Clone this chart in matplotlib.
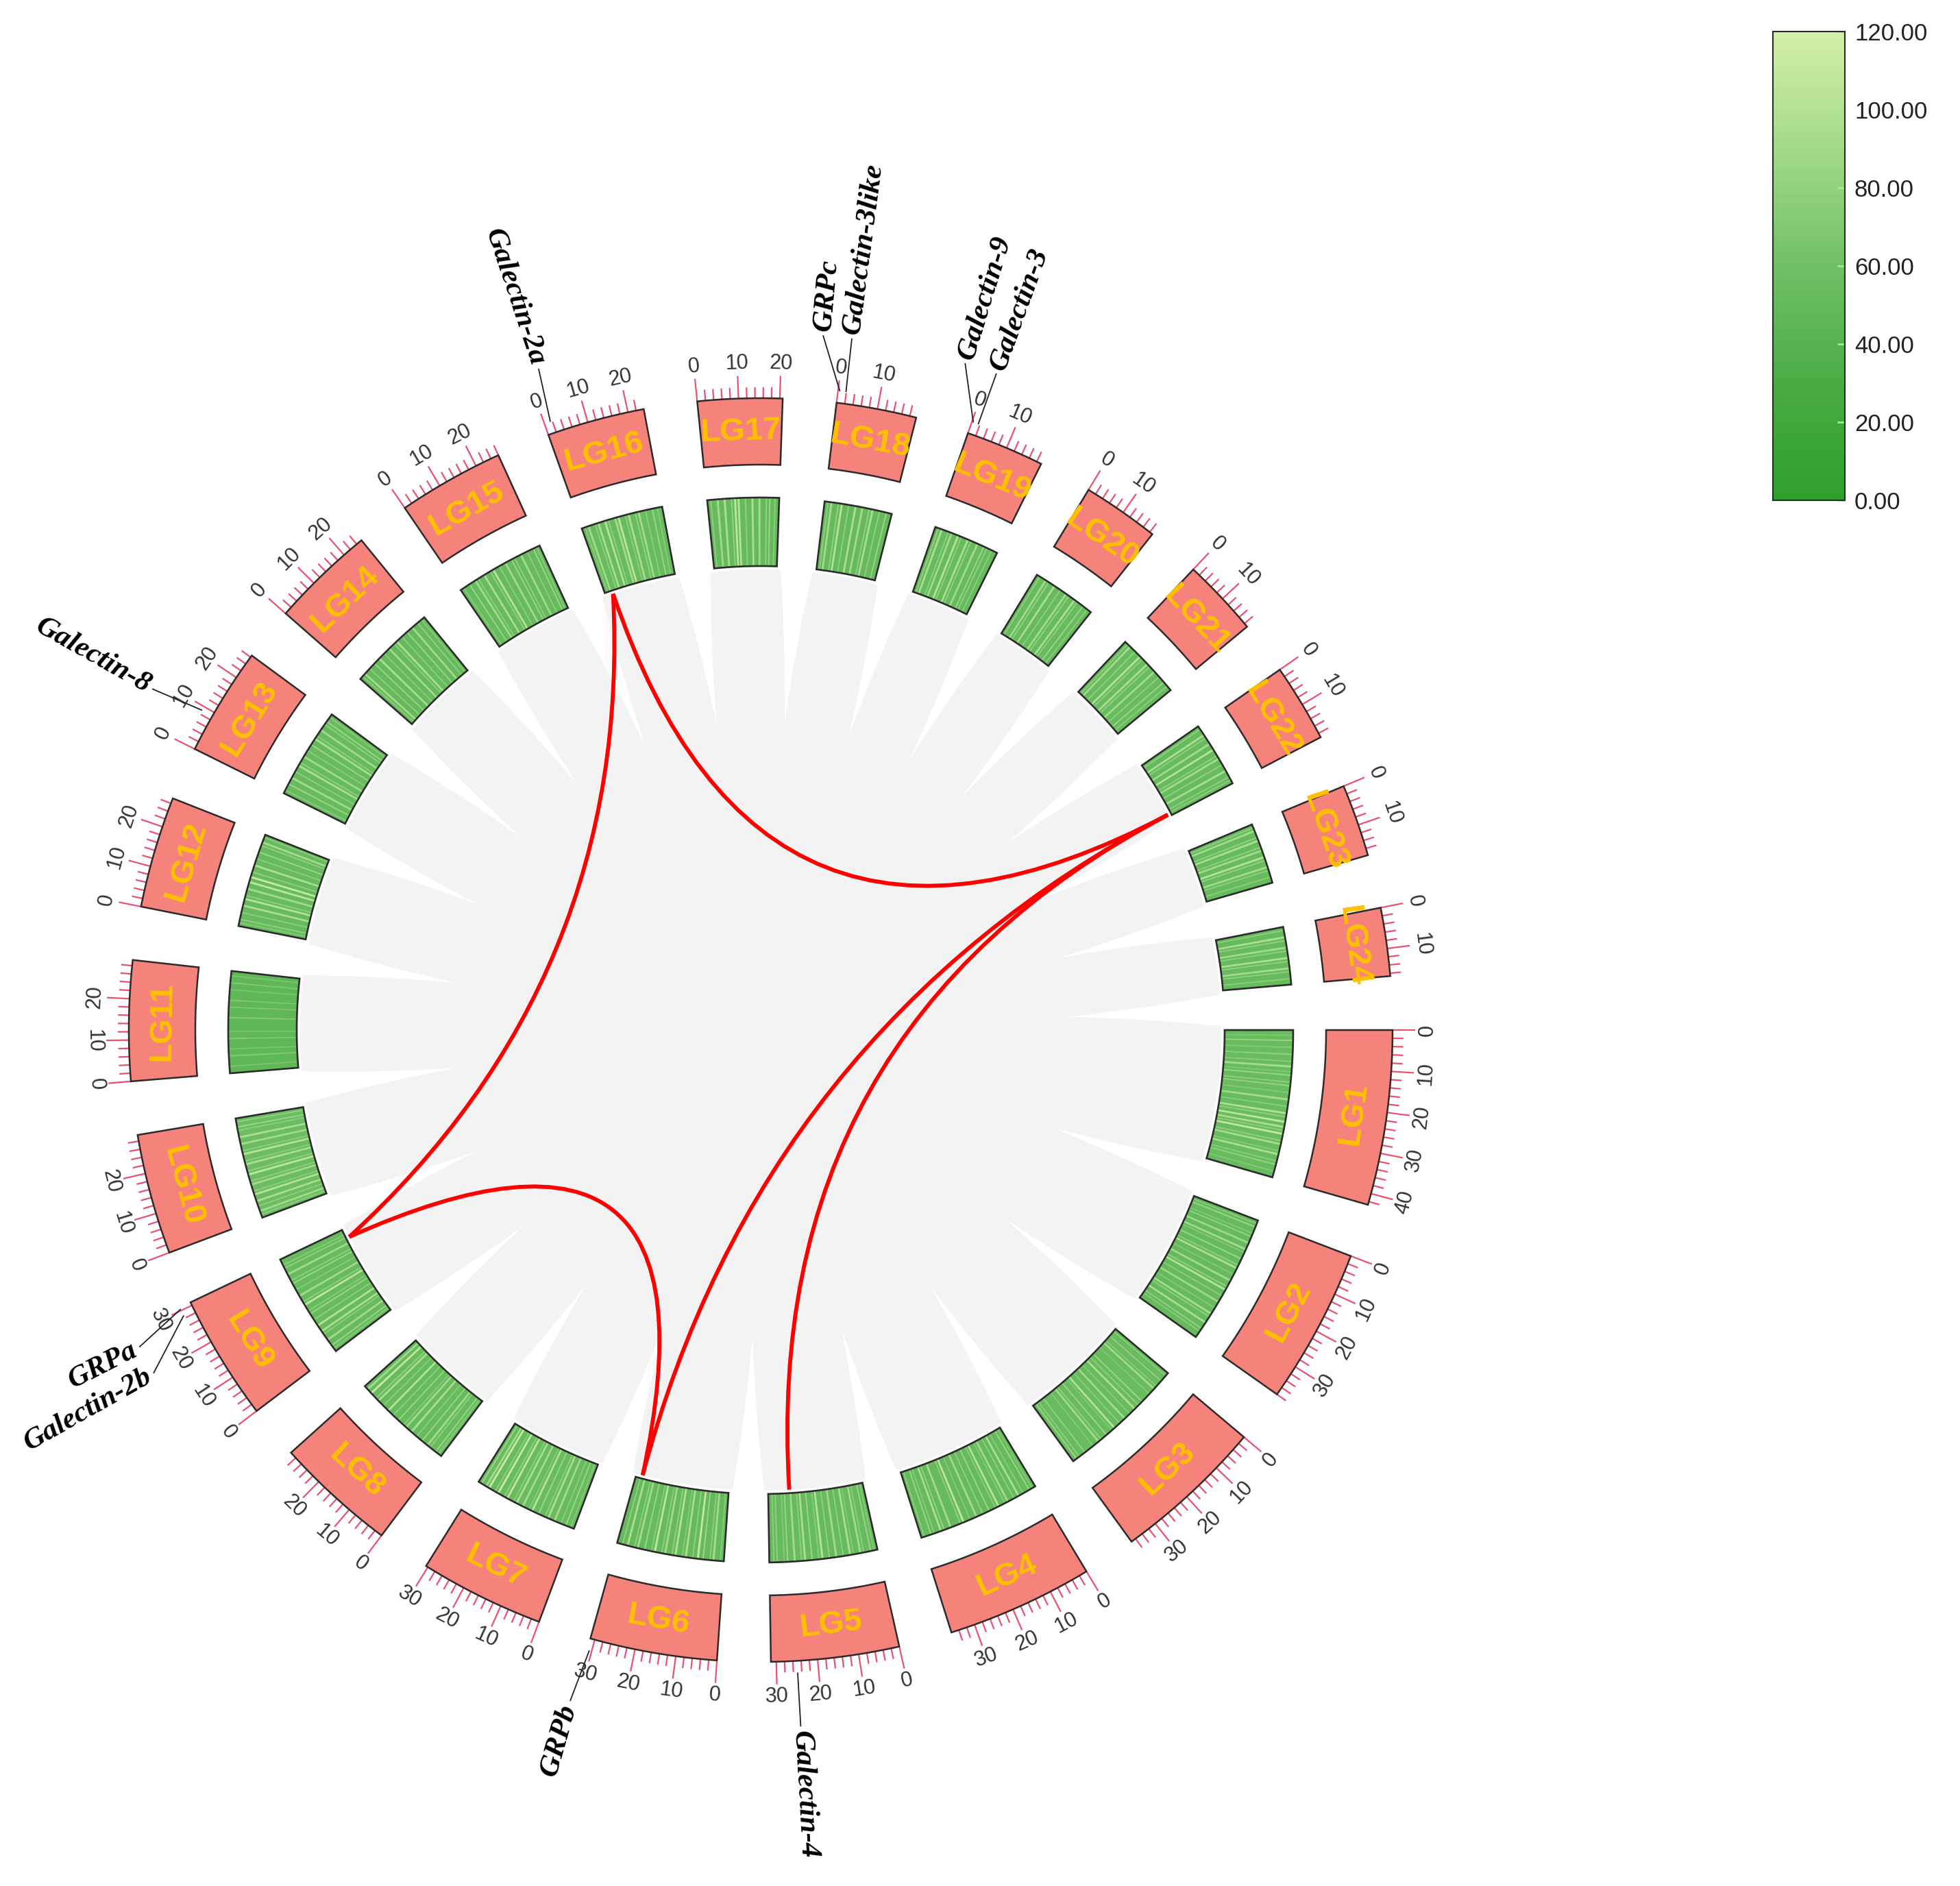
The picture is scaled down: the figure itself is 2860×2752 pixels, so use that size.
import numpy as np
import matplotlib
matplotlib.use('Agg')
import matplotlib.pyplot as plt
from matplotlib.patches import Polygon, Circle, PathPatch
from matplotlib.path import Path
from matplotlib.collections import LineCollection, PolyCollection
from matplotlib.colors import LinearSegmentedColormap, Normalize
from matplotlib.cm import ScalarMappable


chrom_names = ['LG%d' % i for i in range(1, 25)]
chrom_len = [42.8, 38.0, 37.2, 35.9, 31.3, 31.1, 30.5, 29.7, 30.8, 29.5, 29.4, 27.3,
             26.5, 25.5, 26.0, 23.9, 20.7, 19.6, 19.2, 18.8, 19.0, 19.1, 17.7, 16.7]

# Gene density heat track: base level per group plus lighter stripes (Mb, value).
heat_base = [54, 52, 54, 52, 53, 52, 54, 53, 53, 56, 47, 53,
             53, 52, 53, 54, 52, 52, 53, 53, 54, 53, 53, 53]
stripe_pos = [
    [1.5, 3, 5, 7, 9, 10.5, 12, 13, 15, 16, 18, 20, 22, 24, 25, 26.5, 28, 29, 30, 32, 33, 35, 36, 38, 39, 41],
    [1, 2, 4, 5, 7, 9, 10, 12, 14, 15, 17, 19, 21, 22, 24, 26, 28, 30, 31, 33, 35, 36],
    [1, 3, 5, 6, 8, 11, 12.5, 14, 16, 18, 20, 22, 23, 25, 27, 28, 30, 33, 35, 36],
    [1, 2, 4, 5.5, 7, 9, 10, 12, 13, 15, 17, 19, 21, 23, 24, 27, 29, 30, 32, 33, 35],
    [1, 2, 4, 5, 7, 8, 10, 12, 14, 16, 17, 19, 21, 22, 24, 26, 27, 29, 30],
    [1, 3, 4, 6, 7.5, 9, 11, 12, 14, 15, 17, 18, 20, 21, 23, 25, 26, 28, 29.5],
    [1, 2.5, 4, 6, 8, 9, 11, 13, 14, 16, 18, 19, 21, 22, 24, 25, 27, 28, 29.5],
    [1, 2, 4, 5, 7, 9, 11, 13, 14, 16, 18, 20, 22, 24, 25, 27, 28.5],
    [1, 2, 4, 6, 7, 9, 11, 13, 14, 16, 17, 19, 21, 23, 24, 26, 28, 29],
    [1, 2, 3.5, 5, 7, 8, 10, 11, 13, 14, 16, 17, 19, 20, 22, 24, 26, 27, 28.5],
    [2, 5, 7, 10, 12, 16, 19, 21, 24, 26, 28],
    [1, 2, 4, 6, 8, 9, 11, 13, 14.5, 16, 18, 20, 22, 24, 25, 26.5],
    [1, 3, 5, 7, 9, 10, 12, 14, 16, 18, 19, 21, 23, 24, 25.5],
    [1, 2, 4, 6, 8, 10, 12, 14, 15, 17, 19, 21, 23, 24.5],
    [1, 3, 5, 6, 8, 10, 11, 13, 15, 17, 18, 20, 22, 24, 25],
    [1, 2, 4, 5, 7, 8, 10, 11, 13, 14, 16, 17, 19, 21, 22.5],
    [1, 3, 5, 7, 8, 9, 11, 13, 15, 17, 18, 19.5],
    [1, 2, 4, 5, 7, 9, 11, 13, 14, 16, 18],
    [1, 2, 4, 5, 7, 8, 10, 11, 13, 15, 16, 17.5],
    [1, 3, 4, 6, 8, 10, 11, 13, 14, 16, 17.5],
    [1, 2, 4, 6, 7, 9, 10, 12, 14, 16, 17.5],
    [1, 3, 4, 6, 8, 10, 11, 13, 15, 17, 18],
    [1, 2, 4, 5, 7, 8, 10, 11, 13, 14, 16],
    [1, 3, 4, 6, 7, 9, 10, 12, 13, 15],
]
stripe_val = [
    [70, 85, 72, 80, 75, 92, 70, 85, 78, 82, 72, 90, 75, 98, 80, 105, 95, 78, 108, 80, 92, 72, 95, 76, 82, 70],
    [72, 85, 70, 80, 88, 90, 72, 85, 78, 95, 70, 90, 80, 100, 76, 88, 72, 92, 78, 95, 80, 74],
    [75, 80, 72, 90, 70, 85, 78, 95, 72, 90, 76, 100, 70, 85, 78, 90, 72, 80, 76, 85],
    [70, 85, 74, 95, 78, 90, 72, 100, 76, 85, 80, 90, 72, 105, 78, 90, 80, 95, 74, 85, 76],
    [72, 85, 76, 90, 72, 95, 78, 90, 80, 100, 74, 85, 95, 76, 90, 85, 72, 80, 76],
    [74, 90, 76, 85, 110, 78, 95, 72, 100, 80, 90, 76, 105, 74, 85, 90, 78, 95, 80],
    [72, 85, 76, 90, 95, 78, 85, 100, 74, 90, 95, 76, 105, 80, 110, 78, 112, 90, 85],
    [74, 85, 78, 90, 85, 76, 95, 90, 74, 85, 78, 100, 76, 95, 82, 110, 90],
    [72, 85, 90, 76, 95, 100, 78, 85, 74, 105, 78, 90, 72, 85, 78, 90, 80, 74],
    [76, 90, 78, 95, 100, 76, 90, 78, 105, 80, 95, 76, 100, 78, 90, 95, 76, 85, 80],
    [66, 72, 66, 70, 66, 72, 68, 70, 66, 70, 66],
    [72, 80, 76, 95, 100, 78, 90, 105, 110, 80, 95, 76, 85, 78, 90, 74],
    [74, 85, 90, 76, 95, 78, 90, 74, 85, 95, 76, 90, 78, 85, 74],
    [76, 90, 78, 85, 95, 76, 90, 78, 95, 76, 85, 90, 78, 74],
    [74, 85, 90, 76, 95, 78, 100, 76, 90, 85, 78, 90, 76, 85, 74],
    [76, 90, 78, 95, 100, 78, 90, 105, 76, 95, 80, 90, 76, 85, 74],
    [78, 90, 95, 80, 105, 100, 78, 95, 90, 80, 85, 76],
    [78, 90, 80, 100, 78, 95, 90, 80, 95, 78, 85],
    [80, 95, 78, 90, 100, 78, 95, 80, 90, 85, 78, 76],
    [78, 90, 80, 95, 78, 90, 80, 95, 78, 85, 76],
    [78, 90, 80, 100, 78, 95, 80, 90, 78, 85, 76],
    [80, 95, 78, 90, 100, 78, 90, 80, 95, 78, 76],
    [78, 90, 80, 95, 78, 90, 100, 80, 90, 78, 76],
    [78, 95, 80, 90, 78, 95, 80, 90, 78, 76],
]

# Duplicated gene pairs (links) and how far each curve bows away from the centre.
link_chr_a = ['LG16', 'LG16', 'LG9', 'LG22', 'LG22']
link_pos_a = [2.5, 2.5, 27.7, 18.4, 18.4]
link_chr_b = ['LG22', 'LG9', 'LG6', 'LG6', 'LG5']
link_pos_b = [18.4, 27.7, 29.0, 29.0, 24.3]
link_bend = [0.0, 0.3, 0.1, 0.0, 0.0]

# Annotated genes: group, position (Mb) and label offset (deg).
gene_names = ['Galectin-2a', 'GRPc', 'Galectin-3like', 'Galectin-9', 'Galectin-3',
              'Galectin-8', 'GRPa', 'Galectin-2b', 'GRPb', 'Galectin-4']
gene_chrom = ['LG16', 'LG18', 'LG18', 'LG19', 'LG19', 'LG13', 'LG9', 'LG9', 'LG6', 'LG5']
gene_pos = [1.5, 0.4, 1.9, 0.3, 1.6, 9.0, 30.3, 28.6, 30.6, 25.0]
gene_shift = [-0.5, 1.9, 0.1, 2.2, 0.0, 0.5, 1.3, 3.1, -0.4, 0.0]

cbar_ticks = [0, 20, 40, 60, 80, 100, 120]

# layout (pixels)
W, H = 2860, 2752
cx, cy = 1110, 1503
R_RED_OUT, R_RED_IN = 922, 825
R_GRN_OUT, R_GRN_IN = 777, 677
R_GRAY = 672
GAP = 4.9
deg_per_mb = (360 - GAP * len(chrom_len)) / sum(chrom_len)
starts = np.concatenate([[0], np.cumsum(np.array(chrom_len) * deg_per_mb + GAP)[:-1]])

cmap = LinearSegmentedColormap.from_list(
    'dens', ['#2f9f2a', '#4aac45', '#70bf66', '#a2d98b', '#d3f0a8'])
norm = Normalize(0, 120)


def ang(name, pos):
    i = chrom_names.index(name)
    return -(starts[i] + pos * deg_per_mb)


def xy(r, a):
    a = np.radians(a)
    return cx + r * np.cos(a), cy - r * np.sin(a)


def wedge(r0, r1, a0, a1, n=40):
    t = np.linspace(a0, a1, n)
    xo, yo = xy(r1, t)
    xi, yi = xy(r0, t[::-1])
    return np.column_stack([np.r_[xo, xi], np.r_[yo, yi]])


def tang_rot(a):
    rot = (a - 90) % 360
    if rot > 180:
        rot -= 360
    if rot > 90:
        rot -= 180
    elif rot <= -90:
        rot += 180
    return rot


fig = plt.figure(figsize=(W / 100, H / 100), dpi=100)
ax = fig.add_axes([0, 0, 1, 1])
ax.set_xlim(0, W)
ax.set_ylim(H, 0)
ax.axis('off')

# light grey background of the link area, with white spikes at the gaps
ax.add_patch(Circle((cx, cy), R_GRAY, fc='#f3f3f3', ec='none', zorder=1))
for i in range(len(chrom_len)):
    a_end = -(starts[i] + chrom_len[i] * deg_per_mb)
    a_next = -(starts[i + 1]) if i + 1 < len(chrom_len) else -360
    mid = (a_end + a_next) / 2
    hw = 0.42 * GAP
    verts = [xy(R_GRAY + 8, mid + hw), xy(575, mid + hw * 0.4), xy(450, mid),
             xy(575, mid - hw * 0.4), xy(R_GRAY + 8, mid - hw), xy(R_GRAY + 8, mid + hw)]
    codes = [Path.MOVETO, Path.CURVE3, Path.CURVE3, Path.CURVE3, Path.CURVE3, Path.LINETO]
    ax.add_patch(PathPatch(Path(verts, codes), fc='white', ec='none', zorder=2))

tick_segs = []
for i, name in enumerate(chrom_names):
    a0 = -starts[i]
    a1 = -(starts[i] + chrom_len[i] * deg_per_mb)
    amid = (a0 + a1) / 2

    # chromosome box
    ax.add_patch(Polygon(wedge(R_RED_IN, R_RED_OUT, a0, a1), closed=True,
                         fc='#f5837c', ec='#2b2b2b', lw=1.8, zorder=4))
    lx, ly = xy((R_RED_IN + R_RED_OUT) / 2, amid)
    ax.text(lx, ly, name, rotation=tang_rot(amid), ha='center', va='center',
            rotation_mode='anchor', color='#ffc000', fontsize=34,
            fontweight='bold', family='Liberation Sans', zorder=6)

    # heat track
    ax.add_patch(Polygon(wedge(R_GRN_IN, R_GRN_OUT, a0, a1), closed=True,
                         fc=cmap(norm(heat_base[i])), ec='none', zorder=4))
    polys, cols = [], []
    for p, v in zip(stripe_pos[i], stripe_val[i]):
        hw = 0.2 if v < 88 else 0.3
        p0, p1 = max(p - hw, 0), min(p + hw, chrom_len[i])
        polys.append(wedge(R_GRN_IN, R_GRN_OUT, ang(name, p0), ang(name, p1), n=4))
        cols.append(cmap(norm(v)))
    ax.add_collection(PolyCollection(polys, facecolors=cols, edgecolors='none', zorder=5))
    ax.add_patch(Polygon(wedge(R_GRN_IN, R_GRN_OUT, a0, a1), closed=True,
                         fc='none', ec='#2b2b2b', lw=1.9, zorder=6))

    # ticks every 2 Mb, labels every 10 Mb
    for m in np.arange(0, chrom_len[i] + 0.01, 2):
        a = ang(name, m)
        major = m % 10 == 0
        r2 = R_RED_OUT + (33 if major else 16)
        tick_segs.append([xy(R_RED_OUT, a), xy(r2, a)])
        if major:
            tx, ty = xy(973, a)
            ax.text(tx, ty, '%d' % m, rotation=tang_rot(a), ha='center', va='center',
                    rotation_mode='anchor', fontsize=22, color='#333333',
                    family='Liberation Sans', zorder=6)
ax.add_collection(LineCollection(tick_segs, colors='#ea5070', linewidths=1.6, zorder=3))

# links
for ca, pa, cb, pb, bend in zip(link_chr_a, link_pos_a, link_chr_b, link_pos_b, link_bend):
    aa, ab = ang(ca, pa), ang(cb, pb)
    p0 = xy(R_GRAY, aa)
    p2 = xy(R_GRAY, ab)
    bis = np.degrees(np.arctan2(np.sin(np.radians(aa)) + np.sin(np.radians(ab)),
                                np.cos(np.radians(aa)) + np.cos(np.radians(ab))))
    ctrl = xy(bend * R_GRAY, bis)
    path = Path([p0, ctrl, p2], [Path.MOVETO, Path.CURVE3, Path.CURVE3])
    ax.add_patch(PathPatch(path, fc='none', ec='#ff0000', lw=4.2,
                           capstyle='butt', zorder=7))

# gene labels with leader lines
for g, c, p, s in zip(gene_names, gene_chrom, gene_pos, gene_shift):
    a = ang(c, p)
    al = a + s
    x0, y0 = xy(940, a)
    x1, y1 = xy(1017, al)
    ax.plot([x0, x1], [y0, y1], color='#222222', lw=1.3, zorder=6)
    tx, ty = xy(1024, al)
    if np.cos(np.radians(al)) >= 0:
        rot, ha = al, 'left'
    else:
        rot, ha = al - 180, 'right'
    ax.text(tx, ty, g, rotation=rot, ha=ha, va='center', rotation_mode='anchor',
            fontsize=31, fontweight='bold', fontstyle='italic',
            family='Liberation Serif', color='black', zorder=6)

# colour bar
cax = fig.add_axes([2587 / W, 1 - 730 / H, 105 / W, 684 / H])
cb = fig.colorbar(ScalarMappable(norm=norm, cmap=cmap), cax=cax, ticks=cbar_ticks)
cb.ax.set_yticklabels(['%.2f' % t for t in cbar_ticks], fontsize=25,
                      family='Liberation Sans', color='#222222')
cb.ax.tick_params(direction='in', length=8, width=2, color='#a8e896', pad=10)
cb.outline.set_edgecolor('#2b2b2b')
cb.outline.set_linewidth(1.5)

fig.savefig('out.png', dpi=100, facecolor='white')
